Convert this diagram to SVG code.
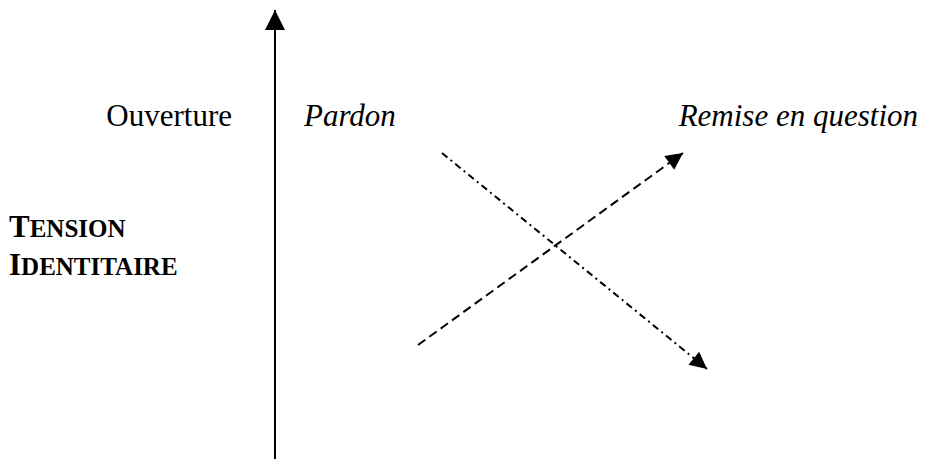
<svg xmlns="http://www.w3.org/2000/svg" width="926" height="459" viewBox="0 0 926 459">
<style>
.lbl{font-family:"Liberation Serif","Times New Roman",serif;font-size:31px;fill:#000}
.it{font-style:italic}
.bold{font-family:"Liberation Serif","Times New Roman",serif;font-weight:bold;fill:#000}
.cap{font-size:31px}
.sc{font-size:25px}
.conn{fill:none;stroke:#000;stroke-width:2}
</style>
<defs>
<marker id="ah" viewBox="0 0 10 10" refX="10" refY="5" markerWidth="22" markerHeight="20" markerUnits="userSpaceOnUse" orient="auto">
<path d="M0,0 L10,5 L0,10 Z" fill="#000"/>
</marker>
<marker id="ah2" viewBox="0 0 10 10" refX="10" refY="5" markerWidth="20" markerHeight="17" markerUnits="userSpaceOnUse" orient="auto">
<path d="M0,0 L10,5 L0,10 Z" fill="#000"/>
</marker>
</defs>
<g id="connectors">
<line class="conn" x1="275" y1="459" x2="275" y2="10" marker-end="url(#ah)"/>
<line class="conn" x1="418" y1="345" x2="683" y2="153" stroke-dasharray="9,5" marker-end="url(#ah2)"/>
<line class="conn" x1="442" y1="153" x2="707" y2="369" stroke-dasharray="7,4,2,4" marker-end="url(#ah2)"/>
</g>
<g id="ouverture"><text class="lbl" x="232" y="126" text-anchor="end">Ouverture</text></g>
<g id="pardon"><text class="lbl it" x="304" y="126">Pardon</text></g>
<g id="remise"><text class="lbl it" x="918" y="126" text-anchor="end">Remise en question</text></g>
<g id="tension">
<text class="bold" x="9" y="237"><tspan class="cap">T</tspan><tspan class="sc">ENSION</tspan></text>
<text class="bold" x="9" y="275"><tspan class="cap">I</tspan><tspan class="sc">DENTITAIRE</tspan></text>
</g>
</svg>
